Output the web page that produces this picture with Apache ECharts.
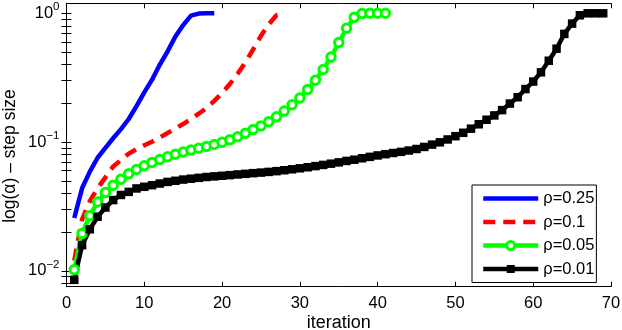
<!DOCTYPE html>
<html><head><meta charset="utf-8">
<script src="https://cdn.jsdelivr.net/npm/echarts@6/dist/echarts.min.js"></script>
<style>html,body{margin:0;padding:0;background:#fff}#c{width:622px;height:330px}</style>
</head><body><div id="c"></div>
<script>
// ---- data ----
const seriesNames = ['ρ=0.25', 'ρ=0.1', 'ρ=0.05', 'ρ=0.01'];
const xLabelValues = [0, 10, 20, 30, 40, 50, 60, 70];
const yLabelValues = [0.01, 0.1, 1];
const yTickValues = [0.008, 0.009, 0.01, 0.02, 0.03, 0.04, 0.05, 0.06, 0.07, 0.08, 0.09,
                     0.1, 0.2, 0.3, 0.4, 0.5, 0.6, 0.7, 0.8, 0.9, 1];
// step size per iteration (iteration = position in array, starting at 1)
const rho025 = [0.0257, 0.0437, 0.0589, 0.0755, 0.090, 0.107, 0.126, 0.151, 0.19, 0.243,
                0.305, 0.40, 0.507, 0.66, 0.81, 0.96, 0.995, 1.0, 1.0];
const rho01 = [0.0120, 0.0251, 0.0347, 0.0437, 0.0531, 0.0646, 0.0724, 0.0813, 0.0881, 0.0944,
               0.1005, 0.1084, 0.1175, 0.1274, 0.138, 0.151, 0.166, 0.184, 0.209, 0.240,
               0.282, 0.339, 0.415, 0.525, 0.668, 0.822, 0.966, 1.0];
const rho005 = [0.0102, 0.0195, 0.0268, 0.0342, 0.0405, 0.0462, 0.0515, 0.0566, 0.0612, 0.0655,
                0.0695, 0.0732, 0.0768, 0.0803, 0.0836, 0.0866, 0.0895, 0.0925, 0.0958, 0.0995,
                0.104, 0.110, 0.117, 0.125, 0.1335, 0.144, 0.157, 0.174, 0.195, 0.220,
                0.256, 0.302, 0.366, 0.457, 0.592, 0.764, 0.93, 0.995, 1.0, 1.0, 1.0];
const rho0001 = [0.0085, 0.0158, 0.0210, 0.0263, 0.0310, 0.0354, 0.0388, 0.0410, 0.0436, 0.0449,
                 0.0462, 0.0476, 0.0490, 0.0500, 0.0511, 0.0519, 0.0527, 0.0535, 0.0541, 0.0547,
                 0.0553, 0.0560, 0.0566, 0.0573, 0.0579, 0.0586, 0.0594, 0.0604, 0.0614, 0.0625,
                 0.0637, 0.0650, 0.0664, 0.0679, 0.0695, 0.0713, 0.0729, 0.0748, 0.0767, 0.0787,
                 0.0805, 0.0822, 0.0839, 0.0859, 0.0883, 0.0916, 0.0955, 0.0995, 0.1047, 0.111,
                 0.118, 0.127, 0.1374, 0.149, 0.161, 0.177, 0.199, 0.223, 0.258, 0.295,
                 0.348, 0.428, 0.531, 0.692, 0.832, 0.966, 1.0, 1.0, 1.0];

const FONT = 'Liberation Sans, Arial, Helvetica, sans-serif';
const BLUE = '#0000ff', RED = '#ff0000', GREEN = '#00ff00', BLACK = '#000000';
const HIDDEN = {color: 'rgba(0,0,0,0)', borderColor: 'rgba(0,0,0,0)', borderWidth: 0};
const toPairs = arr => arr.map((v, i) => [i + 1, v]);

const chart = echarts.init(document.getElementById('c'), null, {renderer: 'canvas'});
const axisLineStyle = {lineStyle: {color: '#000', width: 1}};
const supFmt = v => {
  const e = Math.round(Math.log10(v));
  return '{b|10}{s|' + (e < 0 ? '\u2212' + (-e) : e) + '}';
};
chart.setOption({
  animation: false,
  backgroundColor: '#fff',
  grid: {left: 66.5, right: 11, top: 3.3, bottom: 43.3, containLabel: false, outerBoundsMode: 'none'},
  legend: {
    orient: 'vertical', left: 472, top: 185,
    data: [
      {name: seriesNames[0], lineStyle: {width: 4.5, color: BLUE}, itemStyle: HIDDEN},
      {name: seriesNames[1], lineStyle: {width: 4.5, color: RED, type: [12, 8]}, itemStyle: HIDDEN},
      {name: seriesNames[2], lineStyle: {width: 4.5, color: GREEN},
       itemStyle: {color: '#fff', borderColor: GREEN, borderWidth: 3}},
      {name: seriesNames[3], lineStyle: {width: 4.5, color: BLACK},
       itemStyle: {color: BLACK, borderWidth: 0}}
    ],
    itemWidth: 55, itemHeight: 10, itemGap: 6.5,
    padding: [5, 2, 5, 9],
    borderColor: '#000', borderWidth: 1, backgroundColor: '#fff', borderRadius: 0,
    textStyle: {fontFamily: FONT, fontSize: 16.5, color: '#000'}
  },
  xAxis: [{
    type: 'value', min: 0, max: 70, interval: 10, position: 'bottom',
    name: 'iteration', nameLocation: 'middle', nameGap: 27, nameMoveOverlap: false,
    nameTextStyle: {fontFamily: FONT, fontSize: 18, color: '#000'},
    axisLine: axisLineStyle,
    axisTick: {inside: true, length: 5, lineStyle: {color: '#000'}},
    axisLabel: {fontFamily: FONT, fontSize: 16.5, color: '#000', margin: 8,
                customValues: xLabelValues},
    splitLine: {show: false}
  }, {
    type: 'value', min: 0, max: 70, interval: 10, position: 'top',
    axisLine: axisLineStyle,
    axisTick: {inside: true, length: 5, lineStyle: {color: '#000'}},
    axisLabel: {show: false}, splitLine: {show: false}
  }],
  yAxis: [{
    type: 'log', logBase: 10, min: 0.00752, max: 1.196, position: 'left',
    name: 'log(α) – step size', nameLocation: 'middle', nameGap: 47, nameRotate: 90,
    nameMoveOverlap: false,
    nameTextStyle: {fontFamily: FONT, fontSize: 17.5, color: '#000', padding: [0, 22, 0, 0]},
    axisLine: axisLineStyle,
    axisTick: {inside: true, length: 5, lineStyle: {color: '#000'}, customValues: yTickValues},
    axisLabel: {
      customValues: yLabelValues, margin: 7, formatter: supFmt,
      rich: {
        b: {fontFamily: FONT, fontSize: 16.5, color: '#000'},
        s: {fontFamily: FONT, fontSize: 11.5, color: '#000', padding: [0, 0, 12, 0]}
      }
    },
    splitLine: {show: false}, minorTick: {show: false}
  }, {
    type: 'log', logBase: 10, min: 0.00752, max: 1.196, position: 'right',
    axisLine: axisLineStyle,
    axisTick: {inside: true, length: 5, lineStyle: {color: '#000'}, customValues: yTickValues},
    axisLabel: {show: false}, splitLine: {show: false}
  }],
  series: [{
    name: seriesNames[0], type: 'line', xAxisIndex: 0, yAxisIndex: 0,
    data: toPairs(rho025), symbol: 'circle', showSymbol: false, color: BLUE,
    lineStyle: {width: 4.5, color: BLUE, cap: 'butt', join: 'round'}
  }, {
    name: seriesNames[1], type: 'line', xAxisIndex: 0, yAxisIndex: 0,
    data: toPairs(rho01), symbol: 'circle', showSymbol: false, color: RED,
    lineStyle: {width: 4.5, color: RED, type: [12, 8], cap: 'butt'}
  }, {
    name: seriesNames[2], type: 'line', xAxisIndex: 0, yAxisIndex: 0,
    data: toPairs(rho005), symbol: 'circle', symbolSize: 8.5, color: GREEN,
    itemStyle: {color: '#fff', borderColor: GREEN, borderWidth: 3},
    lineStyle: {width: 4.5, color: GREEN}
  }, {
    name: seriesNames[3], type: 'line', xAxisIndex: 0, yAxisIndex: 0,
    data: toPairs(rho0001), symbol: 'rect', symbolSize: 8.5, color: BLACK,
    itemStyle: {color: BLACK},
    lineStyle: {width: 4.5, color: BLACK}
  }]
});
</script>
</body></html>
